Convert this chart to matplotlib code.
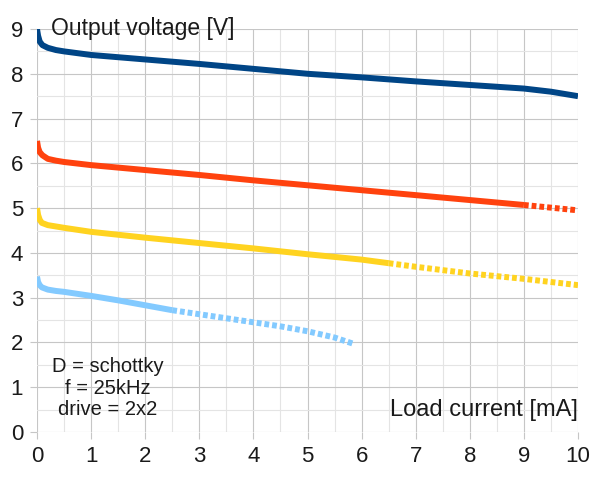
import numpy as np
import matplotlib.pyplot as plt
from matplotlib.ticker import MultipleLocator

plt.rcParams['font.family'] = ['Liberation Sans', 'DejaVu Sans']

# blue curve (solid over whole range)
blue_x = [0, 0.02, 0.05, 0.1, 0.2, 0.35, 0.5, 1, 2, 3, 4, 5, 6, 7, 8, 9, 9.5, 10]
blue_y = [9.0, 8.85, 8.72, 8.64, 8.58, 8.53, 8.5, 8.42, 8.32, 8.22, 8.11, 8.0, 7.92, 7.83, 7.75, 7.67, 7.6, 7.5]

# red curve
red_x = [0, 0.02, 0.05, 0.1, 0.2, 0.35, 0.5, 1, 2, 3, 4, 5, 6, 7, 8, 9]
red_y = [6.5, 6.35, 6.25, 6.18, 6.1, 6.06, 6.03, 5.96, 5.85, 5.74, 5.62, 5.51, 5.4, 5.29, 5.18, 5.07]
red_dot_x = [9, 10]
red_dot_y = [5.07, 4.95]

# yellow curve
yel_x = [0, 0.02, 0.05, 0.09, 0.2, 0.35, 0.5, 1, 2, 3, 4, 5, 6, 6.5]
yel_y = [5.0, 4.85, 4.74, 4.67, 4.62, 4.59, 4.56, 4.47, 4.34, 4.22, 4.1, 3.97, 3.85, 3.77]
yel_dot_x = [6.5, 7, 8, 9, 10]
yel_dot_y = [3.77, 3.69, 3.54, 3.42, 3.28]

# light blue curve
cy_x = [0, 0.02, 0.05, 0.09, 0.2, 0.35, 0.5, 1, 1.5, 2, 2.5]
cy_y = [3.47, 3.35, 3.28, 3.23, 3.18, 3.15, 3.13, 3.04, 2.94, 2.83, 2.72]
cy_dot_x = [2.5, 3, 3.5, 4, 4.5, 5, 5.5, 5.85]
cy_dot_y = [2.72, 2.63, 2.54, 2.45, 2.36, 2.25, 2.11, 1.97]

fig = plt.figure(figsize=(6.01, 4.8), dpi=100)
ax = fig.add_axes([37 / 601, 48 / 480, 541 / 601, 403 / 480])

lw = 4.3
dots = (0, (0.8, 0.5))
ax.plot(blue_x, blue_y, color='#004586', lw=lw, solid_capstyle='butt', zorder=3)
ax.plot(red_x, red_y, color='#ff420e', lw=lw, solid_capstyle='butt', zorder=3)
ax.plot(red_dot_x, red_dot_y, color='#ff420e', lw=lw, ls=dots, dash_capstyle='butt', zorder=3)
ax.plot(yel_x, yel_y, color='#ffd320', lw=lw, solid_capstyle='butt', zorder=3)
ax.plot(yel_dot_x, yel_dot_y, color='#ffd320', lw=lw, ls=dots, dash_capstyle='butt', zorder=3)
ax.plot(cy_x, cy_y, color='#83caff', lw=lw, solid_capstyle='butt', zorder=3)
ax.plot(cy_dot_x, cy_dot_y, color='#83caff', lw=lw, ls=dots, dash_capstyle='butt', zorder=3)

ax.set_xlim(0, 10)
ax.set_ylim(0, 9)
ax.xaxis.set_major_locator(MultipleLocator(1))
ax.yaxis.set_major_locator(MultipleLocator(1))
ax.xaxis.set_minor_locator(MultipleLocator(0.5))
ax.yaxis.set_minor_locator(MultipleLocator(0.5))
ax.grid(True, which='major', color='#c6c6c6', lw=0.8)
ax.grid(True, which='minor', color='#e4e4e4', lw=0.8)
ax.tick_params(which='major', length=5, width=0.8, color='#c6c6c6', labelsize=16,
               labelcolor='#1a1a1a', pad=5)
ax.tick_params(which='minor', length=0)
for s in ax.spines.values():
    s.set_visible(False)

ax.text(0.25, 9.0, 'Output voltage [V]', fontsize=16.5, va='center', ha='left', color='#1a1a1a')
ax.text(10, 0.5, 'Load current [mA]', fontsize=17, va='center', ha='right', color='#1a1a1a')
ax.text(1.3, 0.98, 'D = schottky\nf = 25kHz\ndrive = 2x2', fontsize=14.5, ha='center', va='center',
        linespacing=1.15, color='#1a1a1a')

fig.savefig('out.png', dpi=100)
